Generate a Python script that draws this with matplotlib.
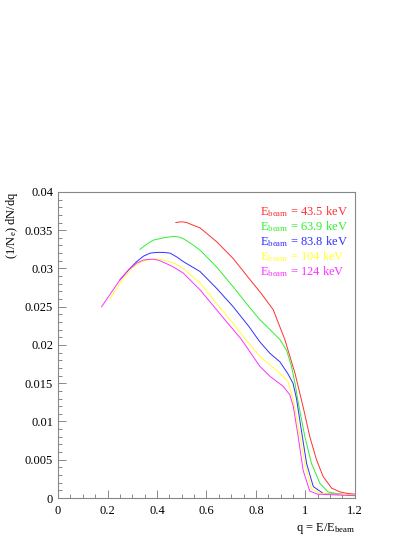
import numpy as np
import matplotlib
matplotlib.use('Agg')
import matplotlib.pyplot as plt
from matplotlib.ticker import MultipleLocator, FuncFormatter

plt.rcParams['font.family'] = ['Liberation Serif', 'DejaVu Serif']
plt.rcParams['mathtext.fontset'] = 'custom'
plt.rcParams['mathtext.rm'] = 'Liberation Serif'
plt.rcParams['mathtext.it'] = 'Liberation Serif:italic'

# spectra, q = E/E_beam vs (1/N_e) dN/dq
q_435 = [0.476, 0.50, 0.52, 0.55, 0.574, 0.60, 0.641, 0.708, 0.772, 0.82, 0.87,
         0.917, 0.958, 0.991, 1.018, 1.045, 1.072, 1.106, 1.139, 1.17, 1.2]
y_435 = [0.0360, 0.0361, 0.0360, 0.0356, 0.0353, 0.0346, 0.0335, 0.0313, 0.0287,
         0.0268, 0.0246, 0.0207, 0.0163, 0.0119, 0.0080, 0.0050, 0.0028, 0.0013,
         0.0008, 0.0006, 0.0005]

q_639 = [0.331, 0.36, 0.385, 0.426, 0.469, 0.49, 0.506, 0.54, 0.574, 0.641, 0.708,
         0.772, 0.816, 0.857, 0.897, 0.924, 0.944, 0.958, 0.971, 0.998, 1.025,
         1.059, 1.092, 1.14, 1.2]
y_639 = [0.0325, 0.0332, 0.0337, 0.0340, 0.0342, 0.0341, 0.0339, 0.0332, 0.0324,
         0.0302, 0.0276, 0.0250, 0.0233, 0.0220, 0.0207, 0.0193, 0.0172, 0.0150,
         0.0125, 0.0080, 0.0045, 0.0019, 0.0008, 0.0005, 0.0004]

q_838 = [0.25, 0.285, 0.318, 0.345, 0.372, 0.40, 0.426, 0.453, 0.48, 0.506, 0.574,
         0.641, 0.708, 0.772, 0.816, 0.857, 0.897, 0.93, 0.95, 0.964, 0.985, 1.005,
         1.032, 1.072, 1.2]
y_838 = [0.0285, 0.0298, 0.0309, 0.0316, 0.0320, 0.0321, 0.0321, 0.0320, 0.0315,
         0.0309, 0.0296, 0.0274, 0.0250, 0.0224, 0.0204, 0.0189, 0.0178, 0.0162,
         0.0150, 0.0130, 0.0086, 0.0045, 0.0015, 0.0006, 0.0004]

q_104 = [0.21, 0.26, 0.304, 0.34, 0.372, 0.412, 0.45, 0.48, 0.506, 0.574, 0.641,
         0.708, 0.749, 0.816, 0.857, 0.897, 0.93, 0.951, 0.978, 0.998, 1.025, 1.06, 1.2]
y_104 = [0.0261, 0.0285, 0.0302, 0.0309, 0.0312, 0.0312, 0.0309, 0.0305, 0.0300,
         0.0281, 0.0254, 0.0228, 0.0211, 0.0185, 0.0174, 0.0163, 0.0152, 0.0128,
         0.0082, 0.0045, 0.0012, 0.0006, 0.0004]

q_124 = [0.176, 0.25, 0.285, 0.318, 0.345, 0.372, 0.39, 0.412, 0.44, 0.466, 0.506,
         0.574, 0.641, 0.708, 0.742, 0.816, 0.857, 0.91, 0.937, 0.951, 0.971, 0.991,
         1.018, 1.05, 1.2]
y_124 = [0.0250, 0.0285, 0.0298, 0.0307, 0.0311, 0.0312, 0.0312, 0.0310, 0.0306,
         0.0302, 0.0294, 0.0272, 0.0246, 0.0220, 0.0207, 0.0172, 0.0159, 0.0146,
         0.0135, 0.0120, 0.0080, 0.0036, 0.0009, 0.0005, 0.0003]

energies = ['43.5', '63.9', '83.8', '104', '124']
colors = ['#ff3030', '#30ee30', '#3030ff', '#ffff30', '#ff30ff']
series = [(q_435, y_435), (q_639, y_639), (q_838, y_838), (q_104, y_104), (q_124, y_124)]

fig = plt.figure(figsize=(4.15, 5.37), dpi=100)
ax = fig.add_axes([0.14, 0.0726, 0.715, 0.570])

for (q, y), c in zip(series, colors):
    ax.plot(q, y, color=c, linewidth=0.7)

ax.set_xlim(0, 1.2)
ax.set_ylim(0, 0.04)
ax.xaxis.set_major_locator(MultipleLocator(0.2))
ax.xaxis.set_minor_locator(MultipleLocator(0.05))
ax.yaxis.set_major_locator(MultipleLocator(0.005))
ax.yaxis.set_minor_locator(MultipleLocator(0.001))
ax.xaxis.set_major_formatter(FuncFormatter(lambda v, p: f'{v:g}'))
ax.yaxis.set_major_formatter(FuncFormatter(lambda v, p: f'{v:g}'))

for s in ax.spines.values():
    s.set_color('#888888')
    s.set_linewidth(0.8)
ax.tick_params(which='both', direction='in', colors='#888888', labelcolor='black',
               labelsize=9, top=False, right=False)
ax.tick_params(which='major', length=6, width=0.7)
ax.tick_params(which='minor', length=3, width=0.7)
ax.tick_params(axis='x', pad=5)

ax.text(1.0, -0.075, r'q = E/E$_{\rm beam}$', transform=ax.transAxes,
        ha='right', va='top', fontsize=9)
ax.text(-0.155, 1.0, r'(1/N$_{\rm e}$) dN/dq', transform=ax.transAxes,
        ha='center', va='top', rotation=90, fontsize=9)

for i, (e, c) in enumerate(zip(energies, colors)):
    ax.text(0.682, 0.935 - i * 0.049, r'E$_{\rm beam}$ = ' + e + ' keV',
            transform=ax.transAxes, color=c, fontsize=9, ha='left', va='center')

fig.savefig('out.png', dpi=100)
